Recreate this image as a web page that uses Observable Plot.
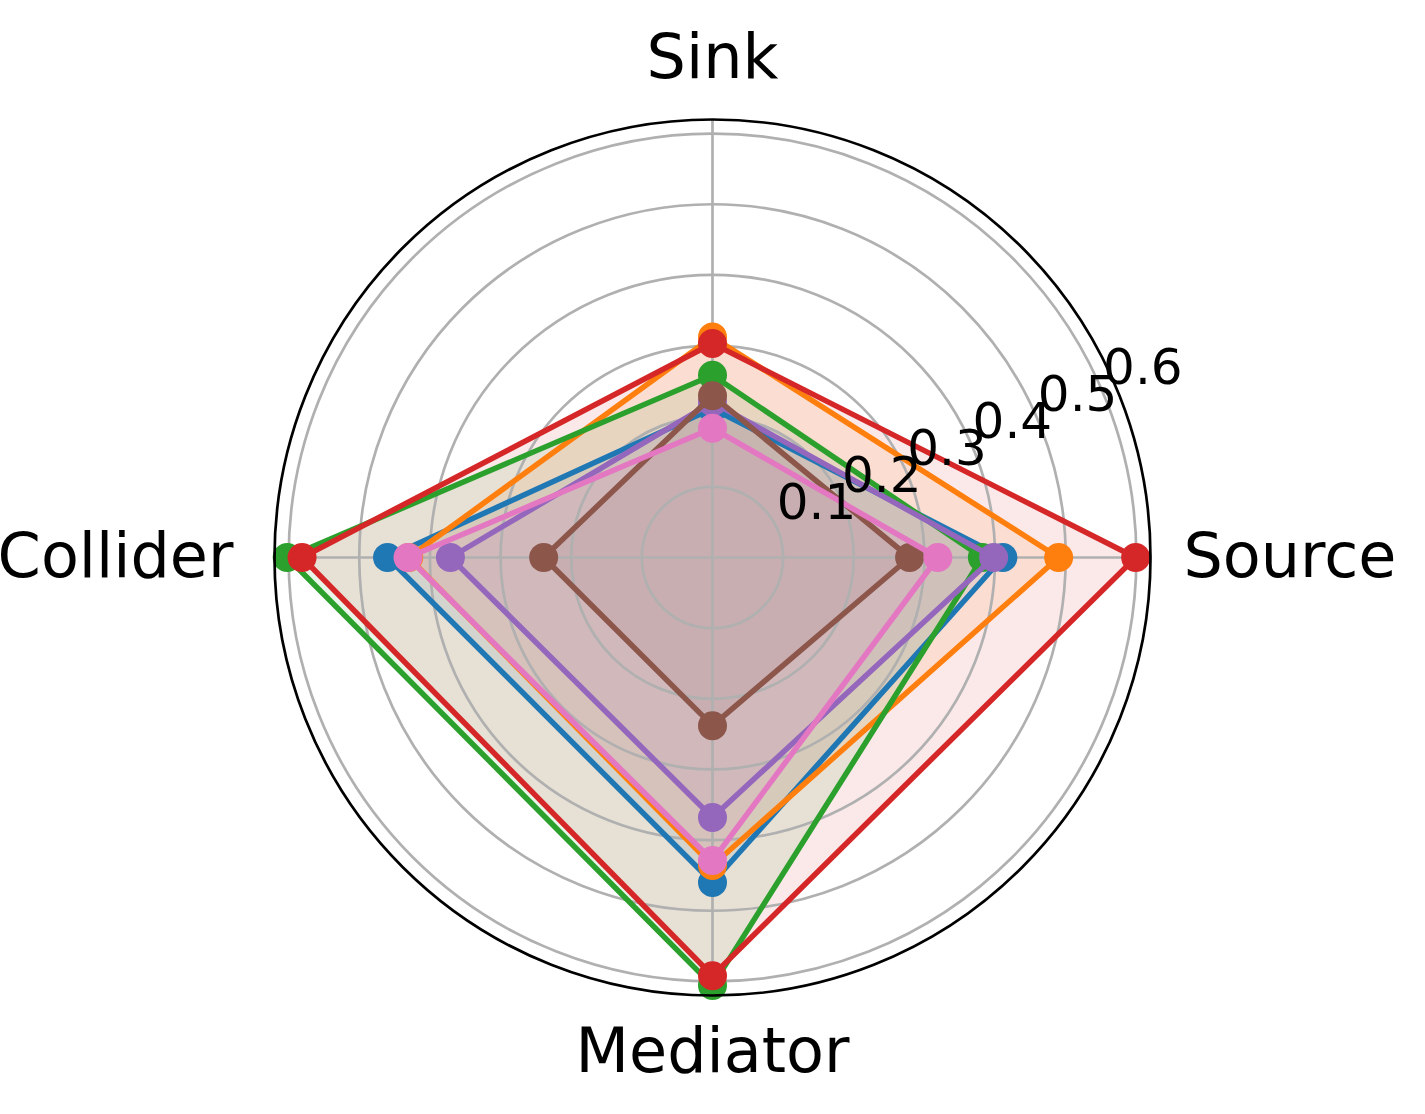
<!DOCTYPE html>
<html>
<head>
<meta charset="utf-8">
<script src="https://cdn.jsdelivr.net/npm/d3@7"></script>
<script src="https://cdn.jsdelivr.net/npm/@observablehq/plot@0.6"></script>
<style>
  html, body { margin: 0; padding: 0; background: #ffffff; }
  #chart svg { display: block; }
</style>
</head>
<body>
<div id="chart"></div>
<script>
// ---- Data ----
const categories = ["Source", "Sink", "Collider", "Mediator"];
const categoryAngles = [0, 90, 180, 270]; // degrees, counter-clockwise from the right

const seriesNames = ["Series 1", "Series 2", "Series 3", "Series 4", "Series 5", "Series 6", "Series 7"];
const seriesColors = ["#1f77b4", "#ff7f0e", "#2ca02c", "#d62728", "#9467bd", "#8c564b", "#e377c2"];

// values in category order: Source, Sink, Collider, Mediator
const series1 = [0.411, 0.211, 0.460, 0.460];
const series2 = [0.490, 0.312, 0.430, 0.436];
const series3 = [0.382, 0.258, 0.602, 0.606];
const series4 = [0.599, 0.303, 0.581, 0.592];
const series5 = [0.398, 0.220, 0.371, 0.368];
const series6 = [0.279, 0.229, 0.239, 0.238];
const series7 = [0.319, 0.183, 0.431, 0.429];
const seriesValues = [series1, series2, series3, series4, series5, series6, series7];

const radialTicks = [0.1, 0.2, 0.3, 0.4, 0.5, 0.6];
const radialTickLabels = ["0.1", "0.2", "0.3", "0.4", "0.5", "0.6"];
const rMax = 0.62;
const tickLabelAngle = 22.5;

// ---- Layout / style ----
const W = 1425, H = 1114;
const RPX = 438;
const CX = 712, CY = 557;
const gridColor = "#b0b0b0";
const rad = a => a * Math.PI / 180;

const points = seriesValues.map((vals, i) =>
  vals.map((v, j) => ({
    series: seriesNames[i],
    color: seriesColors[i],
    category: categories[j],
    angle: categoryAngles[j],
    value: v
  }))
);

const px = d => d.value * Math.cos(rad(d.angle));
const py = d => d.value * Math.sin(rad(d.angle));

const marks = [];

// translucent fills (drawn beneath everything, like matplotlib patches)
points.forEach((pts, i) => {
  marks.push(Plot.line(pts, {
    x: px, y: py, curve: "linear-closed",
    fill: seriesColors[i], fillOpacity: 0.1, stroke: "none"
  }));
});

// grid circles
marks.push(Plot.dot(radialTicks, {
  x: () => 0, y: () => 0, r: d => d,
  fill: "none", stroke: gridColor, strokeWidth: 2.7
}));
// spokes
marks.push(Plot.link(categoryAngles, {
  x1: () => 0, y1: () => 0,
  x2: a => rMax * Math.cos(rad(a)), y2: a => rMax * Math.sin(rad(a)),
  stroke: gridColor, strokeWidth: 2.7
}));

// series: line + markers
points.forEach((pts, i) => {
  marks.push(Plot.line(pts, {
    x: px, y: py, curve: "linear-closed",
    stroke: seriesColors[i], strokeWidth: 5.5, strokeLinejoin: "round"
  }));
  marks.push(Plot.dot(pts, {
    x: px, y: py, r: 14.5, fill: seriesColors[i], stroke: "none"
  }));
});

// outer circle (spine)
marks.push(Plot.dot([rMax], {
  x: () => 0, y: () => 0, r: d => d,
  fill: "none", stroke: "#000000", strokeWidth: 2.7
}));

// radial tick labels
marks.push(Plot.text(radialTicks, {
  x: d => d * Math.cos(rad(tickLabelAngle)),
  y: d => d * Math.sin(rad(tickLabelAngle)),
  text: (d, i) => radialTickLabels[i],
  textAnchor: "start", lineAnchor: "middle",
  fontSize: 50, fill: "#000000", dx: -1, dy: -27
}));

// category labels
categories.forEach((c, j) => {
  const a = rad(categoryAngles[j]);
  const cs = Math.cos(a), sn = Math.sin(a);
  const pad = cs > 0.5 ? 33 : cs < -0.5 ? 41 : sn > 0 ? 61 : 57;
  marks.push(Plot.text([c], {
    x: () => rMax * cs, y: () => rMax * sn, text: d => d,
    textAnchor: cs > 0.5 ? "start" : cs < -0.5 ? "end" : "middle",
    lineAnchor: "middle",
    dx: cs * pad, dy: -sn * pad,
    fontSize: 62, fill: "#000000"
  }));
});

const chart = Plot.plot({
  width: W, height: H,
  marginLeft: CX - RPX, marginRight: W - CX - RPX,
  marginTop: CY - RPX, marginBottom: H - CY - RPX,
  x: {domain: [-rMax, rMax], axis: null},
  y: {domain: [-rMax, rMax], axis: null},
  r: {type: "linear", domain: [0, rMax], range: [0, RPX]},
  style: {fontFamily: "DejaVu Sans", background: "#ffffff", overflow: "visible"},
  marks
});
document.getElementById("chart").appendChild(chart);
</script>
</body>
</html>
